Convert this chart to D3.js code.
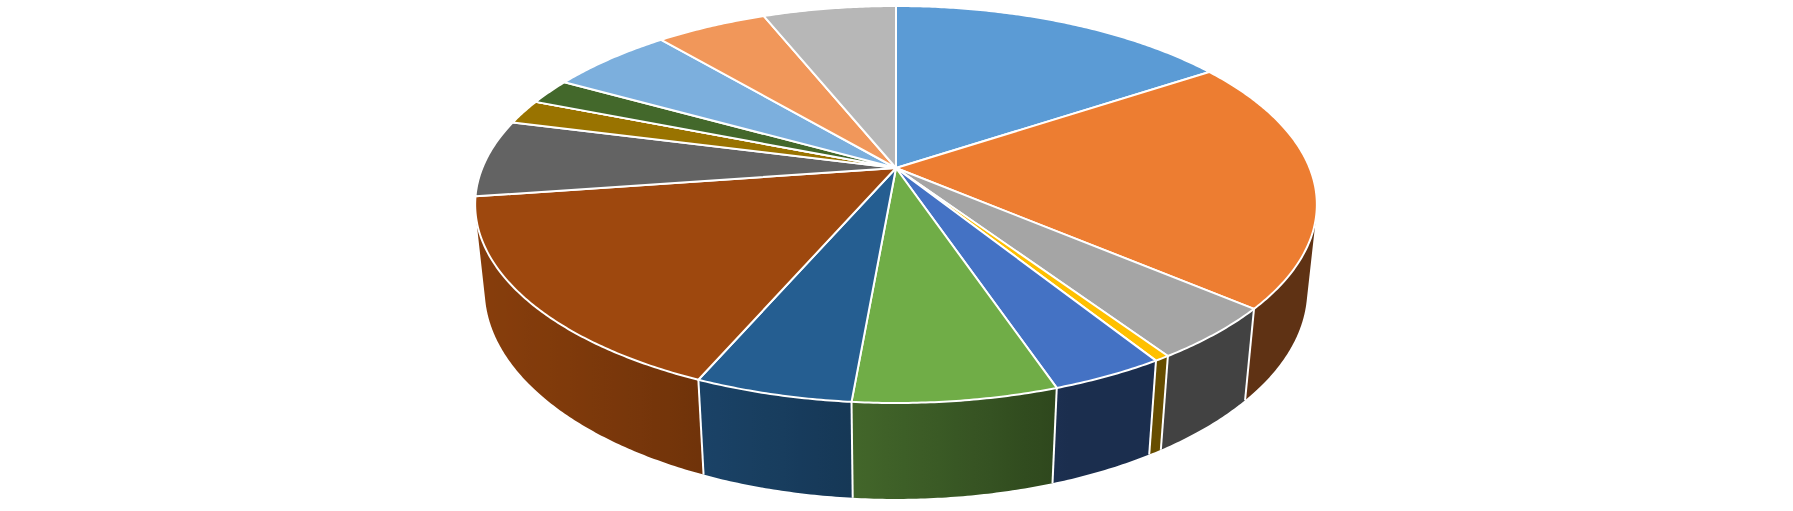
<!DOCTYPE html>
<html>
<head>
<meta charset="utf-8">
<script src="https://cdn.jsdelivr.net/npm/d3@7"></script>
<style>
  body { margin: 0; background: #ffffff; }
</style>
</head>
<body>
<div id="canvas"></div>
<script>
"use strict"
// canvas size
let svgWidth = 1793;
let svgHeight = 511;

// data (no labels are shown in the chart)
let categories = ["Category 1", "Category 2", "Category 3", "Category 4", "Category 5",
    "Category 6", "Category 7", "Category 8", "Category 9", "Category 10",
    "Category 11", "Category 12", "Category 13", "Category 14", "Category 15"];
let values = [157, 205, 44, 5, 37, 66, 51, 162, 63, 20, 0, 21, 57, 51, 61];

// Office palette, same order as the slices
let palette = ["#5B9BD5", "#ED7D31", "#A5A5A5", "#FFC000", "#4472C4", "#70AD47",
    "#255E91", "#9E480E", "#636363", "#997300", "#264478", "#43682B",
    "#7CAFDD", "#F1975A", "#B7B7B7"];

let svg = d3.select("#canvas")
    .append("svg")
    .attr("width", svgWidth)
    .attr("height", svgHeight)

svg.append("rect")
    .attr("width", svgWidth)
    .attr("height", svgHeight)
    .attr("fill", "#ffffff")

// 3D view: pie of radius 1, top face at z=0, side goes down to -depth
let cx = 896, cy = 168;
let focal = 1993.5;
let dist = 4.819;
let sinE = 0.4636;
let cosE = Math.sqrt(1 - sinE * sinE);
let depth = 0.234;

function project(theta, z) {
    let x = Math.sin(theta), y = Math.cos(theta);
    let d = dist + y * cosE - z * sinE;
    return [cx + focal * x / d, cy - focal * (y * sinE + z * cosE) / d];
}

// lighting of the side wall, light comes from front-left
function shade(theta) {
    let a = theta - 250 * Math.PI / 180;
    return 0.40 + 0.45 * Math.max(0, Math.cos(a));
}

let color = d3.scaleOrdinal().domain(categories).range(palette);

let pie = d3.pie()
    .sort(null)
    .value(function(d, i){ return values[i]; });

let arcs = pie(categories);

let line = d3.line();
let step = Math.PI / 360;

function angles(a0, a1) {
    let n = Math.max(1, Math.ceil((a1 - a0) / step));
    return d3.range(n + 1).map(function(i){ return a0 + (a1 - a0) * i / n; });
}

// the part of the cylinder that faces the camera
let wallLo = Math.acos(-1 / (dist * cosE));
let wallHi = 2 * Math.PI - wallLo;

let defs = svg.append("defs");
let walls = svg.append("g");
let edges = svg.append("g");
let tops = svg.append("g");

arcs.forEach(function(d, i){
    let w0 = Math.max(d.startAngle, wallLo);
    let w1 = Math.min(d.endAngle, wallHi);
    if (w1 - w0 <= 0) return;

    let ts = angles(w0, w1);
    let base = d3.rgb(color(d.data));

    // gradient along screen x
    let xs = ts.map(function(t){ return project(t, 0)[0]; });
    let xa = xs[0], xb = xs[xs.length - 1];
    let grad = defs.append("linearGradient")
        .attr("id", "wall" + i)
        .attr("gradientUnits", "userSpaceOnUse")
        .attr("x1", xa).attr("x2", xb)
        .attr("y1", 0).attr("y2", 0);
    ts.forEach(function(t, j){
        if (j % 4 != 0 && j != ts.length - 1) return;
        let k = shade(t);
        let off = xb == xa ? 0 : (xs[j] - xa) / (xb - xa);
        grad.append("stop")
            .attr("offset", off)
            .attr("stop-color", d3.rgb(base.r * k, base.g * k, base.b * k).formatHex());
    });

    let pts = ts.map(function(t){ return project(t, 0); })
        .concat(ts.slice().reverse().map(function(t){ return project(t, -depth); }));

    walls.append("path")
        .attr("d", line(pts) + "Z")
        .attr("fill", "url(#wall" + i + ")");
});

// white edges between slices on the side
arcs.forEach(function(d){
    let t = d.startAngle;
    if (t <= wallLo || t >= wallHi) return;
    edges.append("path")
        .attr("d", line([project(t, 0), project(t, -depth)]))
        .attr("stroke", "#ffffff")
        .attr("stroke-width", 2)
        .attr("fill", "none");
});

// top faces
arcs.forEach(function(d){
    let pts = [[cx, cy]]
        .concat(angles(d.startAngle, d.endAngle).map(function(t){ return project(t, 0); }));
    tops.append("path")
        .attr("d", line(pts) + "Z")
        .attr("fill", color(d.data))
        .attr("stroke", "#ffffff")
        .attr("stroke-width", 2)
        .attr("stroke-linejoin", "round");
});
</script>
</body>
</html>
